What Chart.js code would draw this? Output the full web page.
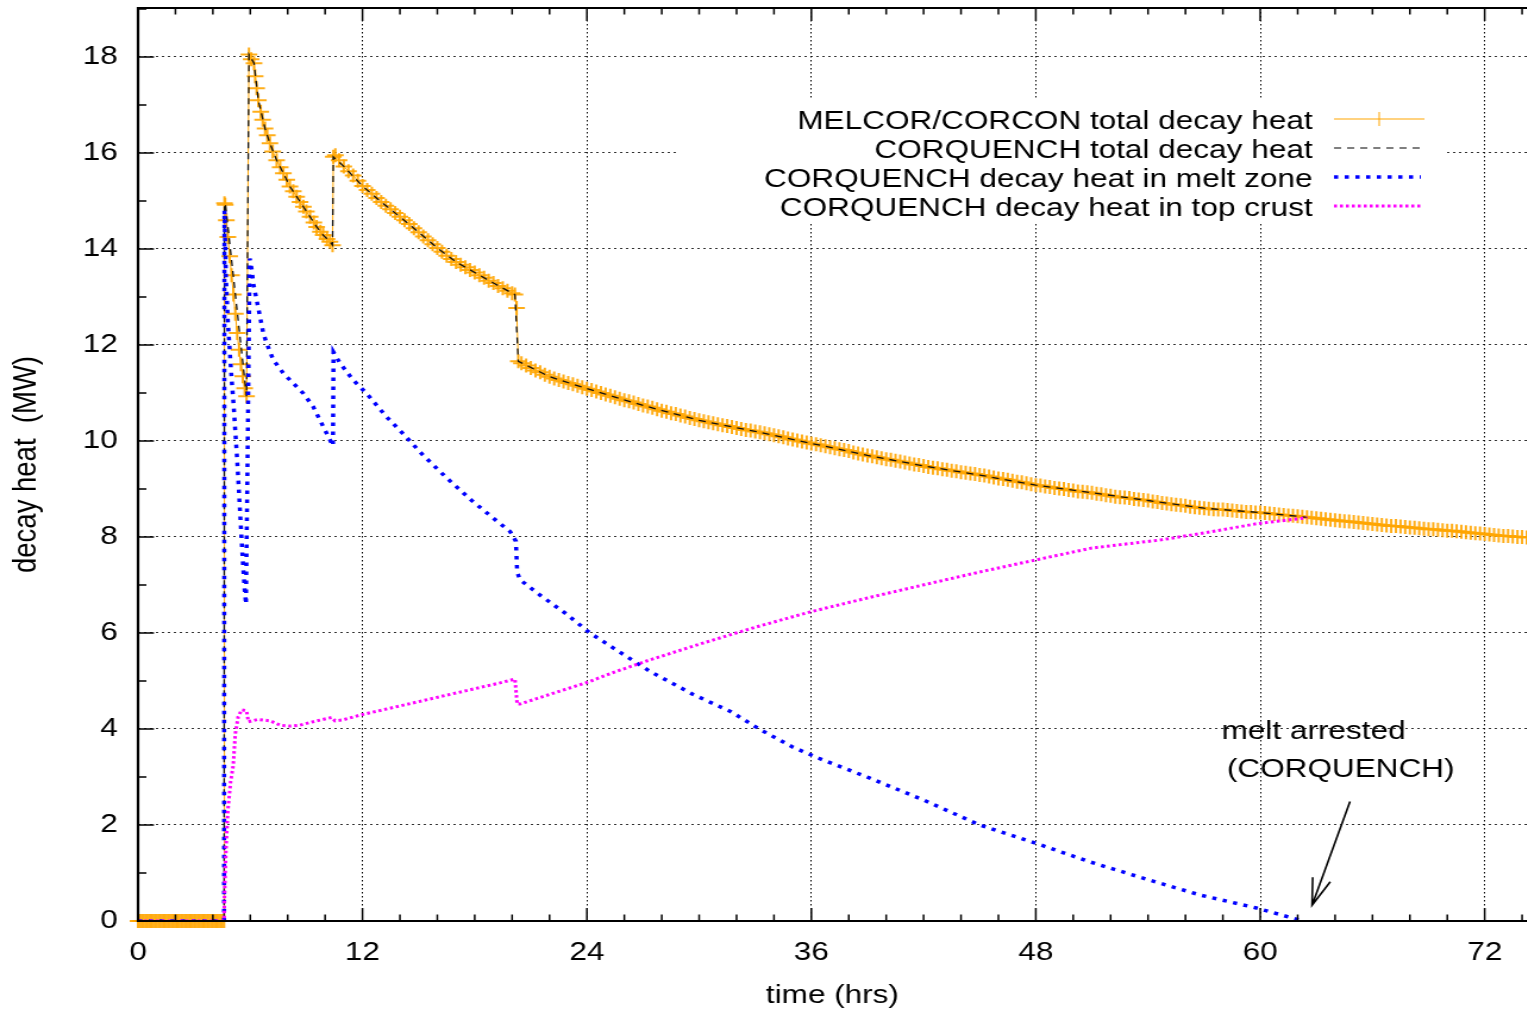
<!DOCTYPE html>
<html>
<head>
<meta charset="utf-8">
<script src="https://cdn.jsdelivr.net/npm/chart.js@4.4.1/dist/chart.umd.min.js"></script>
<style>
  body { margin: 0; background: #fff; overflow: hidden; }
  #wrap { width: 1283px; height: 1013px; transform: scaleX(1.19); transform-origin: 0 0; }
</style>
</head>
<body>
<div id="wrap"><canvas id="heatChart" width="1283" height="1013"></canvas></div>
<script>
// MELCOR/CORCON total decay heat (MW) vs time (hrs)
const tMelcor = [0,0.1,0.2,0.3,0.4,0.5,0.6,0.7,0.8,0.9,1.0,1.1,1.2,1.3,1.4,1.5,1.6,1.7,1.8,1.9,2.0,2.1,2.2,2.3,2.4,2.5,2.6,2.7,2.8,2.9,3.0,3.1,3.2,3.3,3.4,3.5,3.6,3.7,3.8,3.9,4.0,4.1,4.2,4.3,4.4,4.5,4.6,
  4.62,4.66,4.72,4.8,4.9,5.0,5.1,5.2,5.3,5.4,5.5,5.6,5.7,5.8,
  5.93,6.05,6.2,6.26,6.34,6.43,6.56,6.66,6.79,6.91,7.05,7.2,7.41,7.6,7.77,7.95,8.12,8.3,8.48,8.66,8.84,9.0,9.2,9.4,9.55,9.75,9.9,10.1,10.26,10.4,
  10.44,10.55,10.75,11.0,11.25,11.5,11.75,12.0,12.25,12.5,12.75,13.0,13.25,13.5,13.75,14.0,14.25,14.5,14.75,15.0,15.25,15.5,15.75,16.0,16.25,16.5,16.75,17.0,17.25,17.5,17.75,18.0,18.25,18.5,18.75,19.0,19.25,19.5,19.75,20.0,20.15,20.24,20.33,
  20.5,20.75,21.0,21.25,21.5,21.75,22.0,22.25,22.5,22.75,23.0,23.25,23.5,23.75,24.0,24.25,24.5,24.75,25.0,25.25,25.5,25.75,26.0,26.25,26.5,26.75,27.0,27.25,27.5,27.75,28.0,28.25,28.5,28.75,29.0,29.25,29.5,29.75,
  30.0,30.25,30.5,30.75,31.0,31.25,31.5,31.75,32.0,32.25,32.5,32.75,33.0,33.25,33.5,33.75,34.0,34.25,34.5,34.75,35.0,35.25,35.5,35.75,36.0,36.25,36.5,36.75,37.0,37.25,37.5,37.75,38.0,38.25,38.5,38.75,39.0,39.25,39.5,39.75,
  40.0,40.25,40.5,40.75,41.0,41.25,41.5,41.75,42.0,42.25,42.5,42.75,43.0,43.25,43.5,43.75,44.0,44.25,44.5,44.75,45.0,45.25,45.5,45.75,46.0,46.25,46.5,46.75,47.0,47.25,47.5,47.75,48.0,48.25,48.5,48.75,49.0,49.25,49.5,49.75,
  50.0,50.25,50.5,50.75,51.0,51.25,51.5,51.75,52.0,52.25,52.5,52.75,53.0,53.25,53.5,53.75,54.0,54.25,54.5,54.75,55.0,55.25,55.5,55.75,56.0,56.25,56.5,56.75,57.0,57.25,57.5,57.75,58.0,58.25,58.5,58.75,59.0,59.25,59.5,59.75,
  60.0,60.25,60.5,60.75,61.0,61.25,61.5,61.75,62.0,62.25,62.5,62.75,63.0,63.25,63.5,63.75,64.0,64.25,64.5,64.75,65.0,65.25,65.5,65.75,66.0,66.25,66.5,66.75,67.0,67.25,67.5,67.75,68.0,68.25,68.5,68.75,69.0,69.25,69.5,69.75,
  70.0,70.25,70.5,70.75,71.0,71.25,71.5,71.75,72.0,72.25,72.5,72.75,73.0,73.25,73.5,73.75,74.0,74.25,74.5];
const qMelcor = [0,0,0,0,0,0,0,0,0,0,0,0,0,0,0,0,0,0,0,0,0,0,0,0,0,0,0,0,0,0,0,0,0,0,0,0,0,0,0,0,0,0,0,0,0,0,0,
  14.95,14.92,14.6,14.25,13.85,13.45,13.05,12.65,12.25,11.9,11.6,11.35,11.1,10.93,
  18.05,17.95,17.87,17.6,17.35,17.1,16.86,16.69,16.51,16.37,16.2,16.03,15.85,15.7,15.58,15.44,15.3,15.2,15.09,14.98,14.88,14.78,14.67,14.55,14.46,14.36,14.29,14.21,14.15,14.08,
  15.92,15.95,15.85,15.72,15.62,15.53,15.42,15.31,15.23,15.15,15.06,14.98,14.9,14.83,14.75,14.67,14.6,14.52,14.43,14.35,14.26,14.18,14.1,14.02,13.94,13.86,13.79,13.73,13.67,13.62,13.56,13.51,13.45,13.4,13.34,13.29,13.23,13.18,13.13,13.08,13.05,12.77,11.66,
  11.62,11.57,11.52,11.47,11.43,11.38,11.34,11.30,11.27,11.24,11.21,11.18,11.15,11.12,11.09,11.06,11.03,11.00,10.97,10.94,10.91,10.88,10.85,10.83,10.80,10.77,10.74,10.72,10.69,10.66,10.63,10.61,10.58,10.56,10.53,10.51,10.48,10.46,
  10.43,10.41,10.39,10.37,10.35,10.33,10.31,10.29,10.27,10.25,10.23,10.22,10.20,10.18,10.16,10.14,10.12,10.10,10.08,10.05,10.03,10.01,9.99,9.97,9.95,9.93,9.91,9.89,9.87,9.85,9.83,9.81,9.79,9.76,9.74,9.72,9.70,9.68,9.66,9.64,
  9.62,9.61,9.59,9.57,9.55,9.53,9.51,9.50,9.48,9.46,9.44,9.43,9.41,9.40,9.38,9.37,9.35,9.34,9.32,9.31,9.29,9.28,9.26,9.24,9.22,9.21,9.19,9.17,9.15,9.14,9.12,9.10,9.08,9.07,9.05,9.04,9.02,9.01,9.00,8.98,
  8.97,8.95,8.94,8.93,8.92,8.90,8.89,8.87,8.86,8.84,8.83,8.82,8.81,8.79,8.78,8.77,8.76,8.74,8.73,8.71,8.70,8.68,8.67,8.66,8.65,8.63,8.62,8.61,8.60,8.59,8.58,8.57,8.57,8.56,8.55,8.54,8.53,8.52,8.52,8.51,
  8.51,8.50,8.49,8.48,8.47,8.46,8.45,8.44,8.43,8.42,8.41,8.40,8.39,8.38,8.37,8.36,8.35,8.34,8.33,8.32,8.31,8.30,8.29,8.28,8.27,8.26,8.25,8.24,8.23,8.23,8.22,8.21,8.20,8.19,8.18,8.17,8.16,8.16,8.15,8.14,
  8.13,8.13,8.12,8.11,8.10,8.09,8.08,8.07,8.06,8.05,8.04,8.03,8.02,8.02,8.01,8.00,8.00,7.99,7.98];

// CORQUENCH total decay heat
const tCorq = [0,4.6,4.62,4.68,5.8,5.93,6.2,6.43,6.79,7.05,7.41,7.77,8.12,8.48,8.84,9.2,9.55,9.9,10.26,10.4,10.44,11.0,12.0,13.0,14.0,15.0,16.0,17.0,18.0,19.0,20.15,20.33,22.0,24.0,27.0,30.0,33.0,36.0,39.0,42.0,45.0,48.0,51.0,54.0,57.0,60.0,62.5];
const qCorq = [0,0,14.95,14.9,10.93,18.05,17.87,17.1,16.51,16.2,15.85,15.58,15.3,15.09,14.88,14.67,14.46,14.29,14.15,14.08,15.92,15.72,15.31,14.98,14.67,14.35,14.02,13.73,13.51,13.29,13.05,11.66,11.34,11.09,10.74,10.43,10.2,9.95,9.7,9.48,9.29,9.08,8.92,8.76,8.6,8.51,8.41];

// CORQUENCH decay heat in melt zone
const tMelt = [0,4.6,4.62,4.7,4.8,4.9,5.0,5.1,5.2,5.3,5.4,5.5,5.6,5.7,5.77,5.97,6.08,6.16,6.34,6.52,6.7,6.88,7.23,7.77,8.3,8.84,9.37,9.9,10.42,10.45,10.8,11.5,12.22,13.29,14.0,15.25,16.5,17.84,19.0,19.9,20.2,20.27,20.42,21.49,22.92,24.16,25.76,27.37,29.68,31.7,33.3,34.97,36.4,39.1,42.0,45.0,48.0,50.9,54.1,56.8,59.8,62.3];
const qMelt = [0,0,14.8,13.4,12.5,11.9,11.3,10.8,10.2,9.6,8.9,8.2,7.5,6.9,6.6,13.8,13.56,13.28,12.94,12.59,12.24,12.03,11.69,11.41,11.2,10.99,10.71,10.3,9.9,11.85,11.62,11.27,10.99,10.5,10.22,9.7,9.23,8.76,8.39,8.11,7.91,7.27,7.11,6.79,6.39,6.0,5.6,5.2,4.72,4.36,3.98,3.63,3.39,2.98,2.52,2.0,1.62,1.23,0.85,0.54,0.27,0.0];

// CORQUENCH decay heat in top crust
const tCrust = [0,4.6,4.62,4.7,4.8,4.95,5.09,5.2,5.35,5.54,5.8,5.9,6.4,7.06,7.6,8.1,8.66,9.55,10.35,10.53,10.96,11.87,14.0,15.78,17.56,19.35,20.15,20.27,20.42,22.0,23.93,25.58,27.37,30.04,33.0,35.94,39.0,41.97,45.0,47.97,51.0,54.7,56.77,59.87,62.5];
const qCrust = [0,0,0.5,1.5,2.3,2.9,3.25,3.9,4.25,4.4,4.38,4.15,4.2,4.17,4.08,4.06,4.08,4.17,4.24,4.17,4.19,4.29,4.48,4.64,4.8,4.96,5.04,4.52,4.52,4.72,4.96,5.2,5.44,5.77,6.12,6.44,6.73,7.0,7.27,7.52,7.77,7.94,8.07,8.28,8.4];

const xTicks = [0, 12, 24, 36, 48, 60, 72];
const yTicks = [0, 2, 4, 6, 8, 10, 12, 14, 16, 18];
const legendLabels = [
  'MELCOR/CORCON total decay heat',
  'CORQUENCH total decay heat',
  'CORQUENCH decay heat in melt zone',
  'CORQUENCH decay heat in top crust'
];

const FONT = '"Liberation Sans", Arial, Helvetica, sans-serif';
const pts = (t, q) => t.map((x, i) => ({ x: x, y: q[i] }));

const gnuplotFrame = {
  id: 'gnuplotFrame',
  beforeDatasetsDraw(chart) {
    // opaque key box hides the grid behind it
    const ctx = chart.ctx;
    ctx.save();
    ctx.fillStyle = '#fff';
    ctx.fillRect(571, 99, 643, 123);
    ctx.restore();
  },
  afterDatasetsDraw(chart) {
    const ctx = chart.ctx, a = chart.chartArea;
    const xs = chart.scales.x, ys = chart.scales.y;
    ctx.save();
    ctx.strokeStyle = '#000';
    ctx.lineWidth = 2.2;
    ctx.beginPath();
    ctx.moveTo(a.right + 2, a.top); ctx.lineTo(a.left, a.top);
    ctx.lineTo(a.left, a.bottom); ctx.lineTo(a.right + 2, a.bottom);
    ctx.stroke();

    // inward ticks, minor every 2 hrs / 1 MW
    ctx.lineWidth = 1.5;
    ctx.beginPath();
    for (let v = 0; v <= xs.max; v += 2) {
      const px = xs.getPixelForValue(v);
      const len = v % 12 === 0 ? 13 : 6.5;
      ctx.moveTo(px, a.bottom); ctx.lineTo(px, a.bottom - len);
      ctx.moveTo(px, a.top); ctx.lineTo(px, a.top + len);
    }
    for (let v = 0; v <= 19; v += 1) {
      const py = ys.getPixelForValue(v);
      const len = v % 2 === 0 ? 13.4 : 7;
      ctx.moveTo(a.left, py); ctx.lineTo(a.left + len, py);
    }
    ctx.stroke();

    // key
    ctx.font = '26.5px ' + FONT;
    ctx.fillStyle = '#000';
    ctx.textAlign = 'right';
    ctx.textBaseline = 'alphabetic';
    const rows = [119, 148, 177, 206];
    legendLabels.forEach((s, i) => ctx.fillText(s, 1103, rows[i] + 10));

    ctx.strokeStyle = '#ffa500';
    ctx.lineWidth = 1;
    ctx.beginPath(); ctx.moveTo(1121, rows[0]); ctx.lineTo(1197, rows[0]);
    ctx.moveTo(1159, rows[0] - 7); ctx.lineTo(1159, rows[0] + 7);
    ctx.stroke();

    ctx.strokeStyle = '#555'; ctx.lineWidth = 1.5; ctx.setLineDash([6, 5]);
    ctx.beginPath(); ctx.moveTo(1121, rows[1]); ctx.lineTo(1197, rows[1]); ctx.stroke();

    ctx.strokeStyle = '#0000ff'; ctx.lineWidth = 3.5; ctx.setLineDash([3.5, 5.5]);
    ctx.beginPath(); ctx.moveTo(1121, rows[2]); ctx.lineTo(1194, rows[2]); ctx.stroke();

    ctx.strokeStyle = '#ff00ff'; ctx.lineWidth = 3; ctx.setLineDash([2.5, 2.5]);
    ctx.beginPath(); ctx.moveTo(1121, rows[3]); ctx.lineTo(1196, rows[3]); ctx.stroke();
    ctx.setLineDash([]);

    // annotation
    ctx.textAlign = 'center';
    ctx.fillText('melt arrested', xs.getPixelForValue(62.85), ys.getPixelForValue(3.79));
    ctx.fillText('(CORQUENCH)', xs.getPixelForValue(64.3), ys.getPixelForValue(3.0));

    const x0 = xs.getPixelForValue(64.8), y0 = ys.getPixelForValue(2.49);
    const x1 = xs.getPixelForValue(62.77), y1 = ys.getPixelForValue(0.33);
    ctx.strokeStyle = '#000'; ctx.lineWidth = 1.6;
    ctx.beginPath(); ctx.moveTo(x0, y0); ctx.lineTo(x1, y1);
    const ang = Math.atan2(y0 - y1, x0 - x1);
    ctx.moveTo(x1 + 28 * Math.cos(ang - 0.28), y1 + 28 * Math.sin(ang - 0.28));
    ctx.lineTo(x1, y1);
    ctx.lineTo(x1 + 28 * Math.cos(ang + 0.28), y1 + 28 * Math.sin(ang + 0.28));
    ctx.stroke();
    ctx.restore();
  }
};

let chart;

function initChart() {
  const ctx = document.getElementById('heatChart').getContext('2d');
  chart = new Chart(ctx, {
    type: 'line',
    data: {
      datasets: [{
        label: legendLabels[0],
        data: pts(tMelcor, qMelcor),
        borderColor: '#ffa500',
        borderWidth: 1,
        pointStyle: 'cross',
        pointRadius: 7,
        pointBorderWidth: 2,
        pointBorderColor: 'rgba(255,165,0,0.9)',
        clip: { left: 8, top: 0, right: 0, bottom: 10 },
        order: 4
      }, {
        label: legendLabels[1],
        data: pts(tCorq, qCorq),
        borderColor: '#111',
        borderWidth: 1.3,
        borderDash: [6, 5],
        pointRadius: 0,
        order: 3
      }, {
        label: legendLabels[2],
        data: pts(tMelt, qMelt),
        borderColor: '#0000ff',
        borderWidth: 3.5,
        borderDash: [3.5, 5.5],
        borderCapStyle: 'butt',
        pointRadius: 0,
        order: 2
      }, {
        label: legendLabels[3],
        data: pts(tCrust, qCrust),
        borderColor: '#ff00ff',
        borderWidth: 3,
        borderDash: [2.5, 2.5],
        pointRadius: 0,
        order: 1
      }]
    },
    options: {
      responsive: false,
      animation: false,
      events: [],
      layout: { autoPadding: false, padding: { top: 8, right: 0, left: 0, bottom: 0 } },
      plugins: { legend: { display: false }, tooltip: { enabled: false } },
      scales: {
        x: {
          type: 'linear', min: 0, max: 74.25,
          afterBuildTicks: s => { s.ticks = xTicks.map(v => ({ value: v })); },
          afterFit: s => { s.height = 92; s.paddingLeft = 0; s.paddingRight = 0; },
          grid: { color: '#000', lineWidth: 1, drawTicks: false },
          border: { display: false, dash: [1.5, 2.5] },
          ticks: { color: '#000', font: { family: FONT, size: 26.5 }, padding: 16, maxRotation: 0, autoSkip: false },
          title: { display: true, text: 'time (hrs)', color: '#000', font: { family: FONT, size: 26.5 }, padding: { top: 0, bottom: 1 } }
        },
        y: {
          min: 0, max: 19.02,
          afterBuildTicks: s => { s.ticks = yTicks.map(v => ({ value: v })); },
          afterFit: s => { s.width = 116; s.paddingTop = 0; s.paddingBottom = 0; },
          grid: { color: 'rgba(0,0,0,0.8)', lineWidth: 1, drawTicks: false },
          border: { display: false, dash: [2, 3] },
          ticks: { color: '#000', font: { family: FONT, size: 26.5 }, padding: 17, autoSkip: false },
          title: { display: true, text: 'decay heat  (MW)', color: '#000', font: { family: FONT, size: 27.5 }, padding: { top: 6, bottom: 0 } }
        }
      }
    },
    plugins: [gnuplotFrame]
  });
}

window.onload = () => {
  initChart();
};
</script>
</body>
</html>
